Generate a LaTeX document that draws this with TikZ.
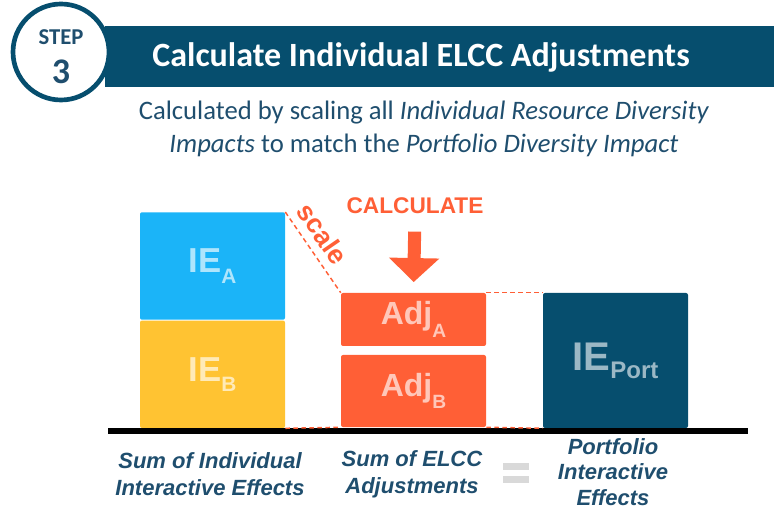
\documentclass[tikz,border=0pt]{standalone}
\usepackage{fontspec}
\setmainfont{Carlito}
\newfontfamily\arialfont{Liberation Sans}
\usetikzlibrary{arrows.meta,positioning}
\definecolor{ecnavy}{HTML}{064E6E}
\definecolor{ectext}{HTML}{1F4E6E}
\definecolor{ecsky}{HTML}{1BB4F8}
\definecolor{ecgold}{HTML}{FFC332}
\definecolor{ecorange}{HTML}{FF5F36}
\definecolor{ecgrey}{HTML}{D9D9D9}
\newcommand{\lowsub}[2][0.3em]{\raisebox{-#1}{\scalebox{0.6}{#2}}}

\begin{document}
\begin{tikzpicture}[
x=0.75pt,y=-0.75pt,
blk/.style={rounded corners=1.5pt,inner sep=0pt,minimum width=108.75pt,
font=\arialfont\bfseries\fontsize{26}{26}\selectfont},
lbl/.style={font=\arialfont\bfseries\itshape\fontsize{16.5}{20}\selectfont,
text=ectext,align=center},
dashln/.style={draw=ecorange,line width=1.1pt,dash pattern=on 3.5pt off 2.5pt},
bigarr/.style={draw=ecorange,line width=9.75pt,
-{Triangle[width=36.75pt,length=18pt]}}
]
\useasboundingbox (0,0) rectangle (774,509);
% title
\fill[ecnavy] (105,26) rectangle (774,87);
\node[circle,fill=white,draw=ecnavy,line width=3.5pt,minimum size=72pt,inner sep=0pt]
  (badge) at (61,52) {};
\node[text=ectext,font=\bfseries\fontsize{17}{17}\selectfont] (stp) at (61,37) {STEP};
\node[text=ectext,font=\bfseries\fontsize{27}{27}\selectfont] (num) at (61,72) {3};
\node[text=white,font=\bfseries\fontsize{25.5}{25.5}\selectfont] (ttl) at (421,57)
  {Calculate Individual ELCC Adjustments};
\node[text=ectext,align=center,font=\fontsize{20}{24.75}\selectfont] (sub) at (424,129)
  {Calculated by scaling all \textit{Individual Resource Diversity}\\
   \textit{Impacts} to match the \textit{Portfolio Diversity Impact}};
% blocks
\node[blk,fill=ecsky,minimum height=80.6pt,text=white!65!ecsky] (ieA) at (212.5,266)
  {IE\lowsub{A}};
\node[blk,fill=ecgold,minimum height=80.6pt,text=white!65!ecgold] (ieB) at (212.5,374.3)
  {IE\lowsub{B}};
\node[blk,fill=ecorange,minimum height=39.75pt,text=white!65!ecorange,
font=\arialfont\bfseries\fontsize{24}{24}\selectfont] (adjA) at (413.5,319.5)
  {Adj\lowsub[0.4em]{A}};
\node[blk,fill=ecorange,minimum height=54pt,text=white!65!ecorange,
font=\arialfont\bfseries\fontsize{24}{24}\selectfont] (adjB) at (413.5,391)
  {Adj\lowsub[0.4em]{B}};
\node[blk,fill=ecnavy,minimum height=101.25pt,text=white!60!ecnavy,
font=\arialfont\bfseries\fontsize{30}{30}\selectfont] (iePort) at (615.5,360.5)
  {IE\lowsub[0.2em]{Port}};
\draw[line width=4pt] (108,431) -- (748,431);
% connectors
\foreach \a/\b in {ieA.north east/adjA.north west,adjA.north east/iePort.north west,
ieB.south east/adjB.south west,adjB.south east/iePort.south west}
\draw[dashln] (\a) -- (\b);
\path (ieA.north east) -- (adjA.north west)
  node[pos=0.4,sloped,above=3pt,text=ecorange,
  font=\arialfont\bfseries\fontsize{20}{20}\selectfont] (scl) {scale};
\node[text=ecorange,inner sep=0pt,font=\arialfont\bfseries\fontsize{17}{17}\selectfont]
  (calc) at (415,206) {CALCULATE};
\draw[bigarr,shorten <=13pt,shorten >=8pt] (calc.south) -- (adjA.north);
% captions
\node[lbl] (capIE) at (210,474) {Sum of Individual\\Interactive Effects};
\node[lbl] (capAdj) at (412,474) {Sum of ELCC\\Adjustments};
\node[lbl,font=\arialfont\bfseries\itshape\fontsize{16.5}{19}\selectfont]
  (capPort) at (613,472) {Portfolio\\Interactive\\Effects};
\fill[ecgrey] (503,463) rectangle (529,470);
\fill[ecgrey] (503,476) rectangle (529,483);
\end{tikzpicture}
\end{document}
